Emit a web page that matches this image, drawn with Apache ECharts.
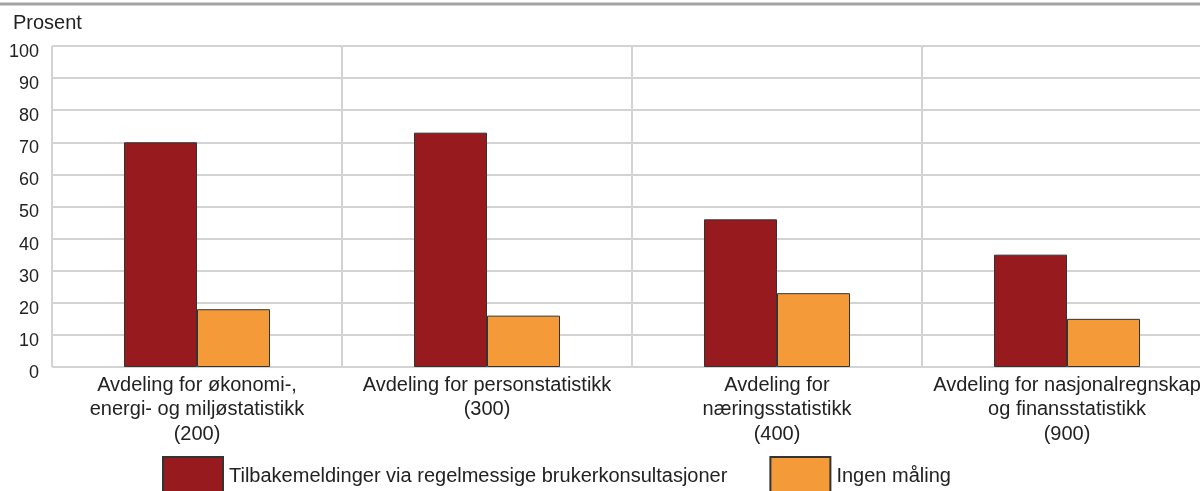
<!DOCTYPE html>
<html>
<head>
<meta charset="utf-8">
<script src="https://cdn.jsdelivr.net/npm/echarts@6/dist/echarts.min.js"></script>
<style>
  html, body { margin: 0; padding: 0; background: #fff; overflow: hidden; }
  #chart { width: 1212px; height: 491px; }
</style>
</head>
<body>
<div id="chart"></div>
<script>
const categories = [
  'Avdeling for økonomi-,\nenergi- og miljøstatistikk\n(200)',
  'Avdeling for personstatistikk\n(300)',
  'Avdeling for\nnæringsstatistikk\n(400)',
  'Avdeling for nasjonalregnskap\nog finansstatistikk\n(900)'
]
const seriesNames = ['Tilbakemeldinger via regelmessige brukerkonsultasjoner', 'Ingen måling']
const tilbakemeldinger = [70, 73, 46, 35]
const ingenMaling = [18, 16, 23, 15]
const colors = ['#961a1e', '#f59a38']

// the plot runs a little past the right edge of the picture, so the chart is 1212 wide
const chart = echarts.init(document.getElementById('chart'))
const font = 'Liberation Sans, Arial, sans-serif'

chart.setOption({
  animation: false,
  backgroundColor: '#fff',
  textStyle: { fontFamily: font },
  grid: { left: 52, top: 46, right: 0, bottom: 124, containLabel: false },
  graphic: [
    {
      type: 'line',
      shape: { x1: 0, y1: 4, x2: 1212, y2: 4 },
      style: { stroke: '#a3a3a3', lineWidth: 3 }
    },
    {
      type: 'text',
      left: 13,
      top: 13,
      style: { text: 'Prosent', fontSize: 20, fill: '#222', fontFamily: font }
    }
  ],
  legend: {
    left: 157,
    top: 451,
    itemWidth: 60,
    itemHeight: 39,
    itemGap: 42,
    icon: 'rect',
    textStyle: { fontSize: 20, color: '#222', padding: [0, 0, 0, 1] },
    data: seriesNames
  },
  xAxis: {
    type: 'category',
    data: categories,
    axisLine: { show: false },
    axisTick: { show: false },
    splitLine: { show: true, interval: 0, lineStyle: { color: '#d3d3d3', width: 2 } },
    axisLabel: { interval: 0, fontSize: 20, color: '#222', lineHeight: 24.5, margin: 6 }
  },
  yAxis: {
    type: 'value',
    min: 0,
    max: 100,
    interval: 10,
    axisLine: { show: false },
    axisTick: { show: false },
    splitLine: { lineStyle: { color: '#d3d3d3', width: 2 } },
    // labels sit a bit below their gridline in the original
    axisLabel: { fontSize: 18, color: '#222', margin: 13, verticalAlign: 'top', lineHeight: 12 }
  },
  series: [
    {
      name: seriesNames[0],
      type: 'bar',
      data: tilbakemeldinger,
      barWidth: 73,
      barGap: '0%',
      itemStyle: { color: colors[0], borderColor: '#333', borderWidth: 1 }
    },
    {
      name: seriesNames[1],
      type: 'bar',
      data: ingenMaling,
      barWidth: 73,
      barGap: '0%',
      itemStyle: { color: colors[1], borderColor: '#333', borderWidth: 1 }
    }
  ]
})
</script>
</body>
</html>
